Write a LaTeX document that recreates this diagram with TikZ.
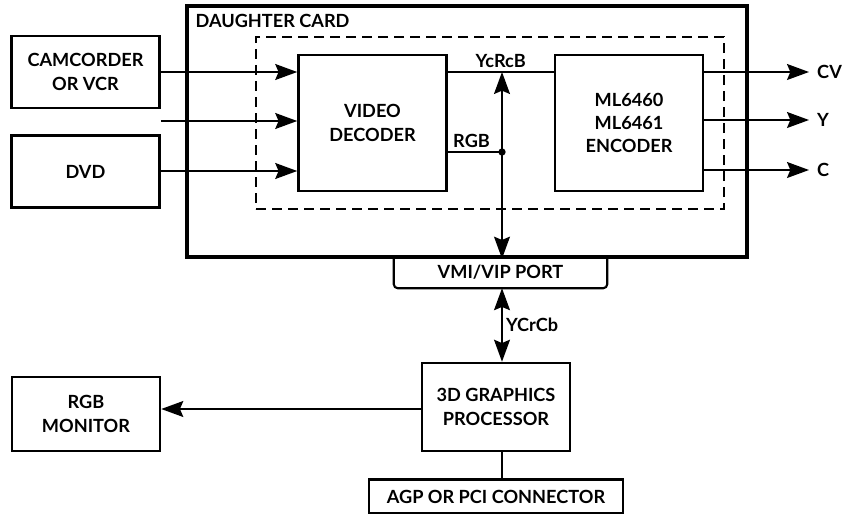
\documentclass[tikz,border=0pt]{standalone}
\usepackage{fontspec}
\setmainfont{Lato}
\usetikzlibrary{arrows.meta,positioning,calc}

\begin{document}
\begin{tikzpicture}[x=0.3mm,y=-0.3mm,>={Stealth[length=6.6mm,width=4.8mm,inset=1mm]},
 font=\fontsize{15.5}{20}\selectfont\bfseries,
 blk/.style={draw,line width=2.2pt,minimum width=44.4mm,align=center,inner sep=0pt},
 card/.style={draw,line width=2.8pt,minimum width=168mm,minimum height=75.3mm},
 frame/.style={draw,line width=2pt,dash pattern=on 3mm off 1.8mm,minimum width=140.4mm,minimum height=51.6mm},
 arr/.style={->,line width=1.2pt},
 wire/.style={line width=1.2pt},
 lab/.style={inner sep=1mm},
 outlab/.style={inner sep=2.4mm,anchor=west}]
\useasboundingbox (0,0) rectangle (847,514);
% daughter card
\node[card] (card) at (467,131.5) {};
\node[anchor=north west,inner sep=0pt] (cardlbl) at ([shift={(3mm,-3mm)}]card.north west) {DAUGHTER CARD};
\node[frame] (dash) at (490,123) {};
\node[blk,minimum height=40.8mm] (dec) at (372.5,123) {VIDEO\\DECODER};
\node[blk,minimum height=40.8mm,right=31.8mm of dec] (enc) {ML6460\\ML6461\\ENCODER};
% sources
\node[blk,minimum height=21.6mm] (cam) at (85.5,72) {CAMCORDER\\OR VCR};
\node[blk,minimum height=21.6mm,below=7.5mm of cam] (dvd) {DVD};
% outputs
\node[outlab] (cv) at (809,72) {CV};
\node[outlab] (y) at (809,120) {Y};
\node[outlab] (c) at (809,170) {C};
% port and host side
\node[minimum width=63.9mm,minimum height=9.3mm,inner sep=0pt] (port) at (500.5,272.5) {VMI/VIP PORT};
\node[blk,minimum height=26.4mm] (gpu) at (496,407) {3D GRAPHICS\\PROCESSOR};
\node[blk,minimum width=76.2mm,minimum height=10.2mm,below=7.8mm of gpu] (agp) {AGP OR PCI CONNECTOR};
\node[blk,minimum height=22.2mm] (mon) at (86,414) {RGB\\MONITOR};
\coordinate (r1) at (0,72);
\coordinate (r2) at (0,121);
\coordinate (r3) at (0,171);
\coordinate (r4) at (0,409);
\coordinate (jn) at (502,152);
\draw[line width=1.8pt,rounded corners=1.2mm] (port.north west) |- (port.south east) -- (port.north east);
\draw[arr] (cam.east |- r1) -- (dec.west |- r1);
\draw[arr] (cam.east |- r2) -- (dec.west |- r2);
\draw[arr] (dvd.east |- r3) -- (dec.west |- r3);
\draw[wire] (dec.east |- r1) -- node[lab,above]{YcRcB} (enc.west |- r1);
\draw[wire] (dec.east |- jn) -- node[lab,above,xshift=-1mm]{RGB} (jn);
\fill (jn) circle (1.1mm);
\draw[arr,<->] (jn |- r1) -- (jn |- card.south);
\draw[arr] (enc.east |- cv) -- (cv);
\draw[arr] (enc.east |- y) -- (y);
\draw[arr] (enc.east |- c) -- (c);
\draw[arr,<->] (jn |- port.south) -- node[lab,right]{YCrCb} (jn |- gpu.north);
\draw[wire] (jn |- gpu.south) -- (jn |- agp.north);
\draw[arr] (gpu.west |- r4) -- (mon.east |- r4);
\end{tikzpicture}
\end{document}
